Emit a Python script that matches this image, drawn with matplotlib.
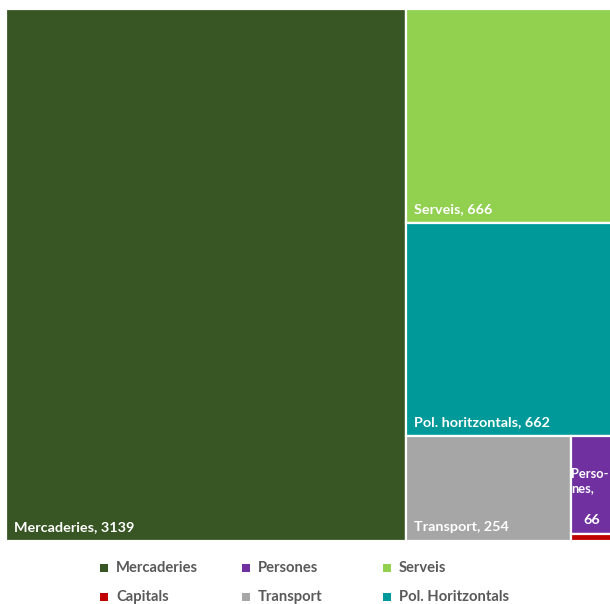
import matplotlib
matplotlib.use("Agg")
import matplotlib.pyplot as plt
from matplotlib.patches import Rectangle

# treemap data
names = ["Mercaderies", "Serveis", "Pol. horitzontals", "Transport", "Persones", "Capitals"]
values = [3139, 666, 662, 254, 66, 5]
colors = ["#375623", "#92d050", "#009999", "#a6a6a6", "#7030a0", "#c00000"]

legend_names = ["Mercaderies", "Persones", "Serveis", "Capitals", "Transport", "Pol. Horitzontals"]
legend_colors = ["#375623", "#7030a0", "#92d050", "#c00000", "#a6a6a6", "#009999"]

FONT = "Lato"
W, H = 611.0, 532.0   # plot area in pixels


def worst(row, side):
    s = sum(row)
    return max(max(side * side * r / (s * s), s * s / (side * side * r)) for r in row)


def squarify(areas, x, y, w, h):
    rects = []
    areas = list(areas)
    while areas:
        side = min(w, h)
        row = [areas[0]]
        i = 1
        while i < len(areas) and worst(row + [areas[i]], side) <= worst(row, side):
            row.append(areas[i])
            i += 1
        s = sum(row)
        if w >= h:
            cw = s / h
            yy = y
            for a in row:
                rects.append((x, yy, cw, a / cw))
                yy += a / cw
            x += cw
            w -= cw
        else:
            rh = s / w
            xx = x
            for a in row:
                rects.append((xx, y, a / rh, rh))
                xx += a / rh
            y += rh
            h -= rh
        areas = areas[i:]
    return rects


total = sum(values)
areas = [v * W * H / total for v in values]
rects = squarify(areas, 0, 0, W, H)

fig = plt.figure(figsize=(6.10, 6.04), dpi=100)
fig.patch.set_facecolor("white")

ax = fig.add_axes([6 / 610, 1 - 541 / 604, W / 610, H / 604])
ax.set_xlim(0, W)
ax.set_ylim(H, 0)
ax.axis("off")

for (x, y, w, h), name, val, col in zip(rects, names, values, colors):
    ax.add_patch(Rectangle((x, y), w, h, facecolor=col, edgecolor="white", linewidth=1.6))
    if w > 100:
        ax.text(x + 8, y + h - 8, f"{name}, {val}", color="white", fontsize=10.4,
                fontweight="bold", family=FONT, ha="left", va="bottom")
    elif h > 40:
        # narrow tile: wrapped name, value centred below
        ax.text(x + 0.5, y + h - 40, "Perso-\nnes,", color="white", fontsize=9.3,
                fontweight="bold", family=FONT, ha="left", va="bottom", linespacing=1.15)
        ax.text(x + 21, y + h - 8, f"{val}", color="white", fontsize=10.4,
                fontweight="bold", family=FONT, ha="center", va="bottom")

# legend, laid out on a full-figure overlay
lg = fig.add_axes([0, 0, 1, 1])
lg.set_xlim(0, 610)
lg.set_ylim(604, 0)
lg.axis("off")
for i, (name, col) in enumerate(zip(legend_names, legend_colors)):
    cx = 104 + 141.5 * (i % 3)
    cy = 568 + 29 * (i // 3)
    lg.scatter([cx], [cy], marker="s", s=40, color=col, linewidths=0)
    lg.text(cx + 12, cy, name, color="#595959", fontsize=10.6, fontweight="bold",
            family=FONT, ha="left", va="center")

fig.savefig("out.png", dpi=100)
